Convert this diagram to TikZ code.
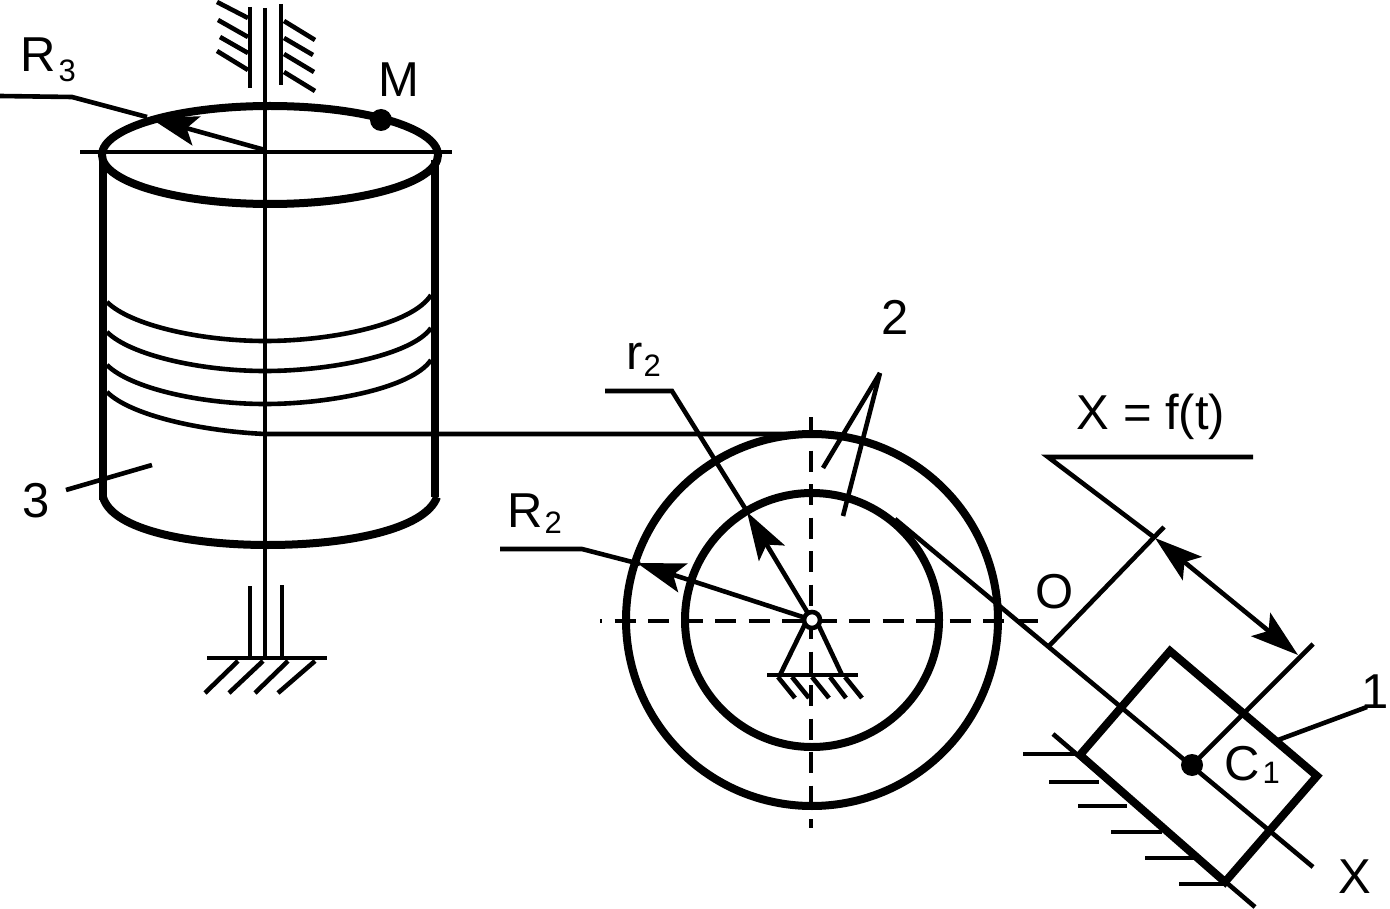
\documentclass[tikz,border=0pt]{standalone}
\usepackage{fontspec}
\setmainfont{Liberation Sans}
\usetikzlibrary{arrows.meta}
\tikzset{
  thin line/.style={line width=4.6pt},
  thick line/.style={line width=8pt},
  hatch/.style={line width=4.6pt},
  dash line/.style={line width=4.6pt,dash pattern=on 21pt off 12.5pt},
  lab/.style={inner sep=0pt,anchor=base,font=\fontsize{49}{49}\selectfont},
  labw/.style={inner sep=0pt,anchor=base west,font=\fontsize{49}{49}\selectfont},
  tip/.style={-{Stealth[length=48pt,width=30pt,inset=10pt]}},
  tips/.style={{Stealth[length=48pt,width=30pt,inset=10pt]}-{Stealth[length=48pt,width=30pt,inset=10pt]}}
}
\newcommand{\subs}[2]{\raisebox{-#1pt}{\fontsize{31}{31}\selectfont #2}}
\begin{document}
\begin{tikzpicture}[x=1pt,y=-1pt]
\useasboundingbox (0,0) rectangle (1390,909);
% shaft and top bearing
\draw[thin line] (265,8) -- (265,658);
\draw[thin line] (250,7) -- (250,88);
\draw[thin line] (281,4) -- (281,85);
\foreach \a/\b/\c/\d in {217/2/248/18,218/20/248/37,220/37/248/53,217/51/248/70,284/21/315/40,284/38/313/55,284/54/314/72,284/72/315/91}
  \draw[hatch] (\a,\b) -- (\c,\d);
% cylinder
\draw[thick line] (270,155) ellipse [x radius=168pt,y radius=49pt];
\draw[thin line] (80,152) -- (452,152);
\draw[line width=8.5pt] (103,160) -- (103,500);
\draw[line width=8.5pt] (435,160) -- (435,497);
\draw[thick line] (103,497) .. controls (112,530) and (190,545) .. (268,545) .. controls (345,545) and (425,530) .. (437,497);
% windings
\draw[thin line] (107,302) .. controls (130,325) and (200,341) .. (265,341) .. controls (330,341) and (412,325) .. (431,295);
\draw[thin line] (107,332) .. controls (130,355) and (200,371) .. (265,371) .. controls (330,371) and (412,355) .. (431,328);
\draw[thin line] (107,365) .. controls (130,388) and (200,404) .. (265,404) .. controls (330,404) and (412,388) .. (431,360);
\draw[thin line] (107,392) .. controls (130,415) and (200,431) .. (265,434) -- (812,434);
% bottom bearing
\draw[thin line] (250,586) -- (250,658);
\draw[thin line] (282,585) -- (282,658);
\draw[thin line] (207,658) -- (327,658);
\foreach \a/\c in {238/205,263/229,288/255,315/278}
  \draw[hatch] (\a,661) -- (\c,693);
% R3, M, 3
\draw[thin line] (0,96) -- (72,97) -- (147,117);
\draw[thin line,tip] (265,150) -- (150,118);
\fill (381,120) circle [radius=11pt];
\node[lab] (M) at (399,97) {M};
\node[labw] (R3) at (20,72) {R\kern3pt\subs{10}{3}};
\node[lab] (n3) at (36,517) {3};
\draw[thin line] (66,490) -- (152,465);
% pulley
\draw[thick line] (812,620) circle [radius=186pt];
\draw[thick line] (812,620) circle [radius=127pt];
\draw[dash line,dash phase=19pt] (600,621) -- (1040,621);
\draw[dash line] (811,417) -- (811,828);
% radii
\draw[thin line] (605,391) -- (672,391) -- (748,513);
\draw[thin line,tip] (812,620) -- (747,512);
\draw[thin line] (500,549) -- (582,549) -- (640,564);
\draw[thin line,tip] (812,620) -- (637,563);
\node[labw] (r2) at (626,370) {r\kern1pt\subs{7}{2}};
\node[labw] (R2) at (507,527) {R\kern2pt\subs{6}{2}};
\node[lab] (n2) at (895,335) {2};
\draw[thin line] (880,373) -- (823,468);
\draw[thin line] (880,373) -- (843,516);
% pin support
\draw[thin line] (806,622) -- (780,675);
\draw[thin line] (817,622) -- (842,675);
\draw[thin line] (767,675) -- (858,675);
\foreach \a/\c in {778/795,792/809,812/829,830/846,845/862}
  \draw[hatch] (\a,677) -- (\c,698);
\draw[thin line,fill=white] (812,620) circle [radius=8pt];
% rope and x axis
\draw[thin line] (895,519) -- (1313,867);
% slider
\draw[thick line,miter limit=10] (1170,651) -- (1317,776) -- (1225,882) -- (1080,755) -- cycle;
\draw[thin line] (1053,734) -- (1255,907);
\foreach \a/\b/\c in {1023/754/1080,1049/782/1099,1078/806/1127,1111/832/1162,1145/858/1195,1179/884/1227}
  \draw[hatch] (\a,\b) -- (\c,\b);
\fill (1192,765) circle [radius=11pt];
% dimensions
\draw[thin line] (1048,647) -- (1164,527);
\draw[thin line] (1192,765) -- (1313,644);
\draw[thin line] (1253,457) -- (1048,457) -- (1155,538);
\draw[thin line,tips] (1155,538) -- (1298,655);
\draw[thin line] (1278,740) -- (1367,707);
\node[lab] (O) at (1055,608) {O};
\node[labw] (C1) at (1224,780) {C\kern3pt\subs{3}{1}};
\node[lab] (n1) at (1375,708) {1};
\node[lab] (X) at (1355,893) {X};
\node[lab] (Xf) at (1151,429) {X = f(t)};
\end{tikzpicture}
\end{document}
